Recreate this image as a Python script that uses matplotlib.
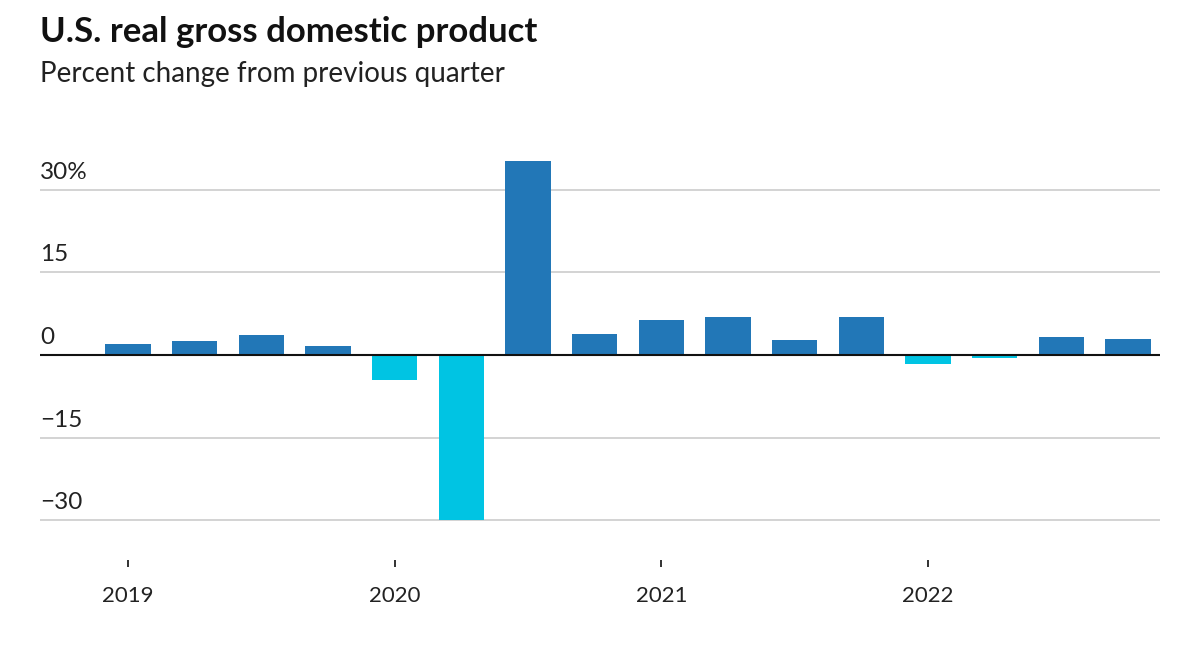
import matplotlib.pyplot as plt

plt.rcParams['font.family'] = ['Lato', 'DejaVu Sans']

quarters = ["2019Q1", "2019Q2", "2019Q3", "2019Q4",
            "2020Q1", "2020Q2", "2020Q3", "2020Q4",
            "2021Q1", "2021Q2", "2021Q3", "2021Q4",
            "2022Q1", "2022Q2", "2022Q3", "2022Q4"]
gdp_change = [2.1, 2.6, 3.6, 1.6,
              -4.5, -29.9, 35.3, 3.9,
              6.3, 7.0, 2.7, 7.0,
              -1.6, -0.6, 3.2, 2.9]
year_labels = ["2019", "2020", "2021", "2022"]
y_ticks = [30, 15, 0, -15, -30]
y_tick_labels = ["30%", "15", "0", "\u221215", "\u221230"]

pos_color = "#2277b7"
neg_color = "#00c4e3"
text_color = "#222222"

fig = plt.figure(figsize=(12, 6.46), dpi=100)
ax = fig.add_axes([40 / 1200, 1 - 560 / 646, 1120 / 1200, (560 - 154) / 646])

x = list(range(len(quarters)))
colors = [pos_color if v >= 0 else neg_color for v in gdp_change]
ax.bar(x, gdp_change, width=0.68, color=colors, zorder=2)

ax.set_xlim(-1.32, 15.48)
ax.set_ylim(-37.2, 36.5)

# gridlines with labels sitting above them
for v, lab in zip(y_ticks, y_tick_labels):
    if v == 0:
        ax.axhline(0, color="#111111", linewidth=1.5, zorder=3)
    else:
        ax.axhline(v, color="#cccccc", linewidth=1.2, zorder=1)
    ax.annotate(lab, xy=(0, v), xycoords=ax.get_yaxis_transform(),
                xytext=(0, 5), textcoords="offset points",
                ha="left", va="bottom", fontsize=17.5, color=text_color)

ax.set_yticks([])
ax.set_xticks([0, 4, 8, 12])
ax.set_xticklabels(year_labels, fontsize=16, color=text_color)
ax.tick_params(axis="x", direction="out", length=5, width=1.3,
               color=text_color, pad=14)
for s in ax.spines.values():
    s.set_visible(False)

fig.text(40 / 1200, 1 - 42 / 646, "U.S. real gross domestic product",
         fontsize=25, fontweight="bold", color="#111111", ha="left", va="baseline")
fig.text(40 / 1200, 1 - 82 / 646, "Percent change from previous quarter",
         fontsize=20, color=text_color, ha="left", va="baseline")

fig.savefig("out.png", dpi=100)
